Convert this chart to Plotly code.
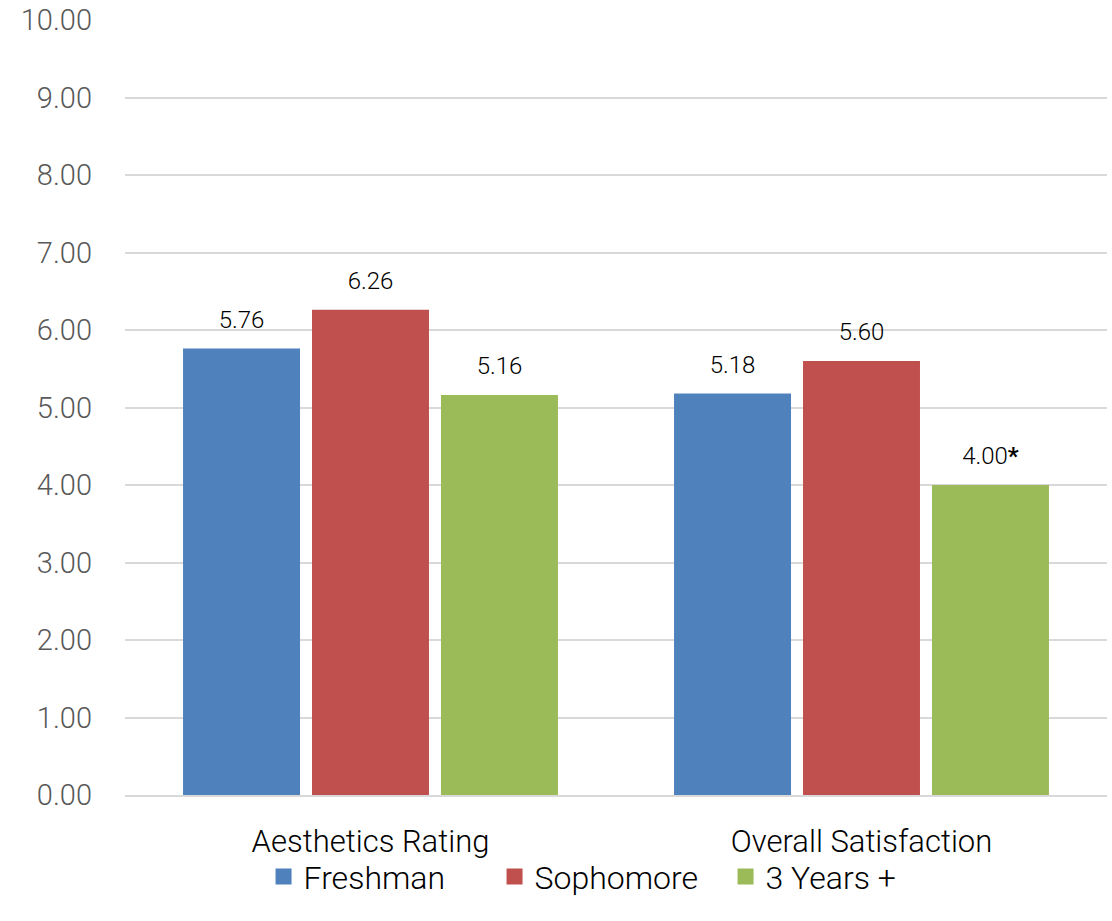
import plotly.graph_objects as go

categories = ["Aesthetics Rating", "Overall Satisfaction"]
freshman = [5.76, 5.18]
sophomore = [6.26, 5.60]
three_plus = [5.16, 4.00]
three_plus_labels = ["5.16", "4.00<b>*</b>"]
y_ticks = [0, 1, 2, 3, 4, 5, 6, 7, 8, 9, 10]

FONT = "Roboto"
GAP = 0.212

fig = go.Figure()
series = [
    ("Freshman", freshman, "#4F81BD", [f"{v:.2f}" for v in freshman]),
    ("Sophomore", sophomore, "#C0504D", [f"{v:.2f}" for v in sophomore]),
    ("3 Years +", three_plus, "#9BBB59", three_plus_labels),
]
for name, vals, color, labels in series:
    fig.add_trace(go.Bar(
        name=name, x=categories, y=vals, marker_color=color,
        marker_line_width=0, hoverinfo="x+y", showlegend=False,
        legendgroup=name, offsetgroup=name,
    ))
# value labels, grouped alongside the bars and lifted a little above each top
for name, vals, color, labels in series:
    fig.add_trace(go.Scatter(
        x=categories, y=vals, mode="markers+text", text=labels,
        textposition="top center", showlegend=False, hoverinfo="skip",
        marker=dict(size=22, color="rgba(0,0,0,0)"),
        textfont=dict(family=FONT, size=24, color="#000000", weight=300),
        cliponaxis=False, legendgroup=name, offsetgroup=name,
    ))
# square legend keys
for name, vals, color, labels in series:
    fig.add_trace(go.Scatter(
        x=[None], y=[None], mode="markers", name=name, legendgroup=name,
        offsetgroup=name,
        marker=dict(symbol="square", size=16, color=color),
    ))

fig.update_layout(
    width=1112, height=921,
    margin=dict(l=125, r=5, t=20, b=126, autoexpand=False),
    paper_bgcolor="white", plot_bgcolor="white",
    barmode="group", bargap=GAP, bargroupgap=0.093,
    scattermode="group", scattergap=GAP,
    font=dict(family=FONT, weight=300),
    showlegend=True,
    legend=dict(orientation="h", xref="container", x=0.237, xanchor="left",
                yref="container", y=0.048, yanchor="middle",
                bgcolor="rgba(0,0,0,0)",
                font=dict(family=FONT, size=32, color="#000000", weight=300),
                itemwidth=30, traceorder="normal",
                entrywidth=186, entrywidthmode="pixels"),
)
fig.update_yaxes(
    range=[0, 10], tickvals=y_ticks, ticktext=[f"{v:.2f}" for v in y_ticks],
    showgrid=True, gridcolor="#D9D9D9", gridwidth=2,
    zeroline=False, showline=False,
    tickfont=dict(family=FONT, size=29, color="#595959", weight=300),
    ticklabelstandoff=32,
)
fig.update_xaxes(
    showline=True, linecolor="#D9D9D9", linewidth=2,
    tickfont=dict(family=FONT, size=31, color="#000000", weight=300),
    ticklabelstandoff=18,
)

fig.write_html("out.html")
